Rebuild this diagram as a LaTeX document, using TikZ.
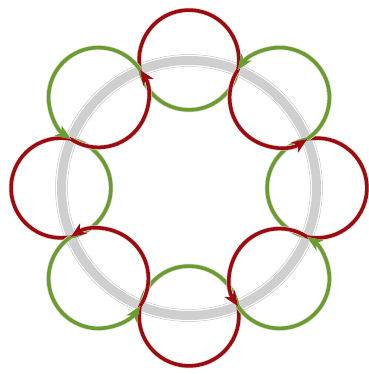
\documentclass[tikz,border=0pt]{standalone}
\usepackage{tikz}
\usepackage{xcolor}
\usetikzlibrary{arrows.meta}
\definecolor{loopred}{HTML}{9E0A0E}
\definecolor{loopgreen}{HTML}{6A9C2E}
\definecolor{ringgray}{HTML}{CFCFCF}

\begin{document}
\begin{tikzpicture}[
  arcline/.style={line width=3.6pt,preaction={draw=gray!25,line width=5pt}},
  arrowtip/.style={-{Stealth[length=15pt,width=12pt,inset=4pt]}}]
\useasboundingbox (0pt,0pt) rectangle (368pt,374pt);
\coordinate (O) at (189pt,186pt);
% the big ring
\fill[ringgray,even odd rule] (O) circle (132pt) (O) circle (123pt);
\draw[gray!45,line width=0.5pt] (O) circle (133.5pt) (O) circle (121.5pt);
% eight small circles, cut where they cross the ring
\foreach \k in {0,...,7}{
  \path (O) ++(45*\k:128pt) coordinate (c\k);
}
\foreach \k in {0,2,4,6}{
  \draw[arcline,loopgreen] (c\k) ++(45*\k+101.25:49.9pt) arc[start angle=45*\k+101.25,delta angle=157.5,radius=49.9pt];
  \draw[arcline,loopred] (c\k) ++(45*\k-101.25:49.9pt) arc[start angle=45*\k-101.25,delta angle=202.5,radius=49.9pt];
}
\foreach \k in {1,3,5,7}{
  \draw[arcline,loopgreen,arrowtip] (c\k) ++(45*\k-101.25:49.9pt) arc[start angle=45*\k-101.25,delta angle=202.5,radius=49.9pt];
  \draw[arcline,loopred,arrowtip] (c\k) ++(45*\k+101.25:49.9pt) arc[start angle=45*\k+101.25,delta angle=157.5,radius=49.9pt];
}
\end{tikzpicture}
\end{document}
